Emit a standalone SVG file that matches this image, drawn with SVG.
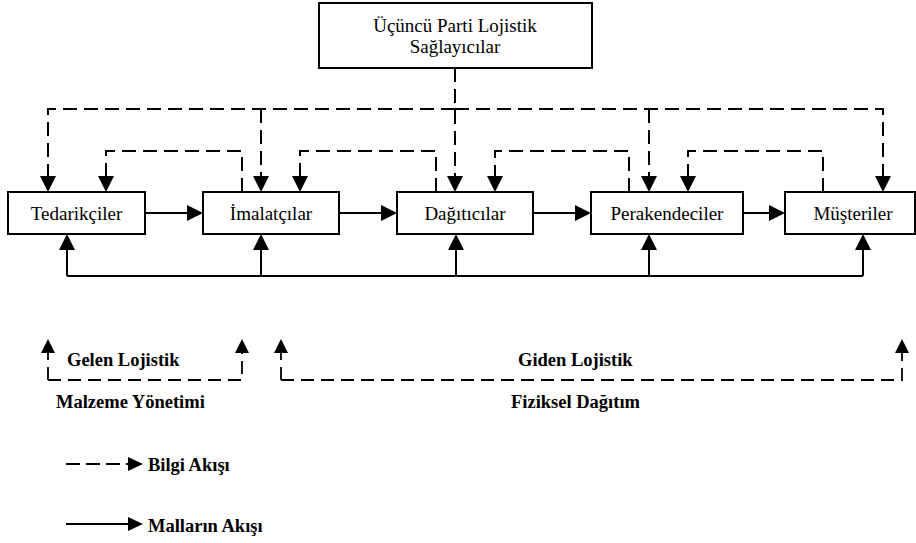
<svg xmlns="http://www.w3.org/2000/svg" width="916" height="543" viewBox="0 0 916 543">
  <style>
    .box { fill: #ffffff; stroke: #000000; stroke-width: 2; }
    .lbl { font-family: 'Liberation Serif', 'DejaVu Serif', serif; font-size: 19px; fill: #000000; text-anchor: middle; }
    .bold { font-family: 'Liberation Serif', 'DejaVu Serif', serif; font-size: 18.5px; font-weight: bold; fill: #000000; }
    .info { fill: none; stroke: #000000; stroke-width: 2; stroke-dasharray: 14 7; }
    .goods { fill: none; stroke: #000000; stroke-width: 2; }
    .brk { fill: none; stroke: #000000; stroke-width: 1.8; stroke-dasharray: 13 7; }
  </style>
  <defs>
    <marker id="arr" viewBox="0 0 16 16" markerWidth="16" markerHeight="16" refX="0" refY="8" orient="auto" markerUnits="userSpaceOnUse">
      <path d="M0,0 L16,8 L0,16 z" fill="#000000"/>
    </marker>
    <marker id="arrS" viewBox="0 0 14 14" markerWidth="14" markerHeight="14" refX="0" refY="7" orient="auto" markerUnits="userSpaceOnUse">
      <path d="M0,0 L14,7 L0,14 z" fill="#000000"/>
    </marker>
    <marker id="arrL" viewBox="0 0 15 14" markerWidth="15" markerHeight="14" refX="0" refY="7" orient="auto" markerUnits="userSpaceOnUse">
      <path d="M0,0 L15,7 L0,14 z" fill="#000000"/>
    </marker>
  </defs>
  <rect width="916" height="543" fill="#ffffff"/>

  <g id="connectors">
    <path class="info" d="M455,68 V176" marker-end="url(#arr)"/>
    <path class="info" d="M455,109 H48 V176" marker-end="url(#arr)"/>
    <path class="info" d="M455,109 H883 V176" marker-end="url(#arr)"/>
    <path class="info" d="M261,109 V176" marker-end="url(#arr)"/>
    <path class="info" d="M649,109 V176" marker-end="url(#arr)"/>
    <path class="info" d="M242,192 V151 H106 V176" marker-end="url(#arr)"/>
    <path class="info" d="M436,192 V151 H300 V176" marker-end="url(#arr)"/>
    <path class="info" d="M629,192 V151 H495 V176" marker-end="url(#arr)"/>
    <path class="info" d="M823,192 V151 H688 V176" marker-end="url(#arr)"/>
    <path class="goods" d="M145,213 H187" marker-end="url(#arr)"/>
    <path class="goods" d="M339,213 H381" marker-end="url(#arr)"/>
    <path class="goods" d="M533,213 H575" marker-end="url(#arr)"/>
    <path class="goods" d="M743,213 H769" marker-end="url(#arr)"/>
    <path class="goods" d="M67,276 H863"/>
    <path class="goods" d="M67,276 V250" marker-end="url(#arr)"/>
    <path class="goods" d="M261,276 V250" marker-end="url(#arr)"/>
    <path class="goods" d="M456,276 V250" marker-end="url(#arr)"/>
    <path class="goods" d="M649,276 V250" marker-end="url(#arr)"/>
    <path class="goods" d="M863,276 V250" marker-end="url(#arr)"/>
    <path class="brk" d="M48,380 V353" marker-end="url(#arrS)"/>
    <path class="brk" d="M48,380 H242 V353" marker-end="url(#arrS)"/>
    <path class="brk" d="M281,380 V353" marker-end="url(#arrS)"/>
    <path class="brk" d="M281,380 H902 V353" marker-end="url(#arrS)"/>
    <path class="info" d="M66,464 H128" style="stroke-dasharray: 14 6" marker-end="url(#arrL)"/>
    <path class="goods" d="M66,524 H128" marker-end="url(#arrL)"/>
  </g>

  <g id="ucuncu-parti">
    <rect class="box" x="319" y="3" width="273" height="65"/>
    <text class="lbl" x="455" y="32">Üçüncü Parti Lojistik</text>
    <text class="lbl" x="455" y="53">Sağlayıcılar</text>
  </g>
  <g id="tedarikciler">
    <rect class="box" x="8" y="192" width="137" height="42"/>
    <text class="lbl" x="76.5" y="220">Tedarikçiler</text>
  </g>
  <g id="imalatcilar">
    <rect class="box" x="203" y="192" width="136" height="42"/>
    <text class="lbl" x="271" y="220">İmalatçılar</text>
  </g>
  <g id="dagiticilar">
    <rect class="box" x="397" y="192" width="136" height="42"/>
    <text class="lbl" x="465" y="220">Dağıtıcılar</text>
  </g>
  <g id="perakendeciler">
    <rect class="box" x="591" y="192" width="152" height="42"/>
    <text class="lbl" x="667" y="220">Perakendeciler</text>
  </g>
  <g id="musteriler">
    <rect class="box" x="785" y="192" width="130" height="42"/>
    <text class="lbl" x="853" y="220">Müşteriler</text>
  </g>

  <g id="labels">
    <text class="bold" x="67" y="366">Gelen Lojistik</text>
    <text class="bold" x="56" y="408">Malzeme Yönetimi</text>
    <text class="bold" x="518" y="366">Giden Lojistik</text>
    <text class="bold" x="511" y="408">Fiziksel Dağıtım</text>
    <text class="bold" x="148" y="471">Bilgi Akışı</text>
    <text class="bold" x="148" y="532">Malların Akışı</text>
  </g>
</svg>
